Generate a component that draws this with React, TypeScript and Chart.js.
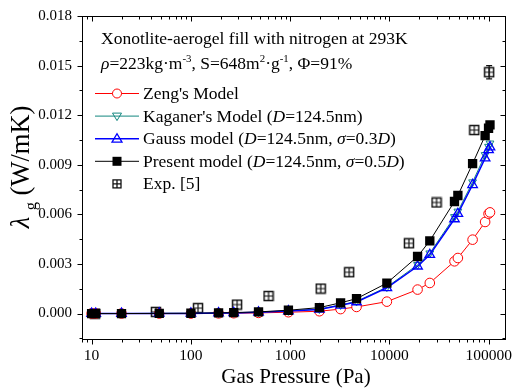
import React, { useEffect, useRef } from 'react';
import { Chart, registerables } from 'chart.js';

Chart.register(...registerables);

const FONT = "'Liberation Serif', 'Times New Roman', serif";

// Model pressures (Pa)
const pressures = [10, 11, 20, 48, 100, 190, 270, 480, 960, 1970, 3220, 4660, 9420, 19200, 25500, 45200, 48900, 68800, 92000, 99600, 103000];
const zengModel = [0, 0, 0, 0, 0, 0.00001, 0.00002, 0.00004, 0.00008, 0.00014, 0.00027, 0.0004, 0.00072, 0.00145, 0.00185, 0.00316, 0.00336, 0.00447, 0.00554, 0.00604, 0.00612];
const kaganerModel = [0, 0, 0, 0.00001, 0.00001, 0.00003, 0.00004, 0.00008, 0.00016, 0.00027, 0.00052, 0.00073, 0.0016, 0.00295, 0.00365, 0.00585, 0.00618, 0.00795, 0.0096, 0.0101, 0.0103];
const gaussModel = [0, 0, 0, 0.00001, 0.00001, 0.00003, 0.00004, 0.00008, 0.00015, 0.00025, 0.0005, 0.0007, 0.00155, 0.00286, 0.00356, 0.00572, 0.00604, 0.00779, 0.0094, 0.0099, 0.01007];
const presentModel = [0, 0, 0, 0.00001, 0.00002, 0.00004, 0.00006, 0.0001, 0.0002, 0.00036, 0.00065, 0.0009, 0.00184, 0.00345, 0.0044, 0.00678, 0.00714, 0.00907, 0.01076, 0.01121, 0.01141];

// Experimental data
const expPressures = [10.8, 44.4, 118, 292, 605, 2030, 3930, 15700, 29800, 71500, 101000];
const expValues = [0, 0.0001, 0.00033, 0.00054, 0.00106, 0.00151, 0.0025, 0.00425, 0.00672, 0.0111, 0.0146];
const expErrors = [0, 0, 0, 0, 0, 0, 0, 0, 0, 0, 0.0004];

const yTicks = [0, 0.003, 0.006, 0.009, 0.012, 0.015, 0.018];
const xTicks = [10, 100, 1000, 10000, 100000];

const RED = '#ff0000';
const TEAL = '#12877f';
const BLUE = '#0000ff';
const BLACK = '#000000';
const EXP = '#111111';

type Run = { t: string; it?: boolean; sup?: boolean; sub?: boolean };

function runsWidth(ctx: CanvasRenderingContext2D, runs: Run[], size: number) {
  let w = 0;
  for (const r of runs) {
    const s = r.sup || r.sub ? size * 0.62 : size;
    ctx.font = `${r.it ? 'italic ' : ''}${s}px ${FONT}`;
    w += ctx.measureText(r.t).width;
  }
  return w;
}

function drawRuns(ctx: CanvasRenderingContext2D, x: number, y: number, runs: Run[], size: number) {
  let cx = x;
  ctx.textAlign = 'left';
  ctx.textBaseline = 'alphabetic';
  for (const r of runs) {
    const s = r.sup || r.sub ? size * 0.62 : size;
    ctx.font = `${r.it ? 'italic ' : ''}${s}px ${FONT}`;
    const dy = r.sup ? -size * 0.38 : r.sub ? size * 0.25 : 0;
    ctx.fillText(r.t, cx, y + dy);
    cx += ctx.measureText(r.t).width;
  }
  return cx;
}

function makeExpMarker() {
  const c = document.createElement('canvas');
  c.width = 12;
  c.height = 12;
  const g = c.getContext('2d')!;
  g.strokeStyle = EXP;
  g.lineWidth = 1.5;
  g.strokeRect(1.5, 1.5, 9, 9);
  g.lineWidth = 1.2;
  g.beginPath();
  g.moveTo(6, 1.5);
  g.lineTo(6, 10.5);
  g.moveTo(1.5, 6);
  g.lineTo(10.5, 6);
  g.stroke();
  return c;
}

function drawMarker(ctx: CanvasRenderingContext2D, kind: string, x: number, y: number, color: string) {
  ctx.save();
  ctx.strokeStyle = color;
  ctx.fillStyle = color;
  ctx.lineWidth = 1;
  ctx.beginPath();
  if (kind === 'circle') {
    ctx.fillStyle = '#fff';
    ctx.arc(x, y, 4.5, 0, Math.PI * 2);
    ctx.fill();
    ctx.stroke();
  } else if (kind === 'down') {
    ctx.moveTo(x - 4.5, y - 3);
    ctx.lineTo(x + 4.5, y - 3);
    ctx.lineTo(x, y + 4.5);
    ctx.closePath();
    ctx.stroke();
  } else if (kind === 'up') {
    ctx.lineWidth = 1.3;
    ctx.moveTo(x - 5, y + 3.5);
    ctx.lineTo(x + 5, y + 3.5);
    ctx.lineTo(x, y - 5);
    ctx.closePath();
    ctx.stroke();
  } else if (kind === 'square') {
    ctx.fillRect(x - 4.5, y - 4.5, 9, 9);
  } else if (kind === 'exp') {
    ctx.strokeStyle = EXP;
    ctx.lineWidth = 1.3;
    ctx.strokeRect(x - 4, y - 4, 8, 8);
    ctx.moveTo(x, y - 4);
    ctx.lineTo(x, y + 4);
    ctx.moveTo(x - 4, y);
    ctx.lineTo(x + 4, y);
    ctx.stroke();
  }
  ctx.restore();
}

const legendItems: { color: string; marker: string; line: boolean; runs: Run[] }[] = [
  { color: RED, marker: 'circle', line: true, runs: [{ t: "Zeng's Model" }] },
  { color: TEAL, marker: 'down', line: true, runs: [{ t: "Kaganer's Model (" }, { t: 'D', it: true }, { t: '=124.5nm)' }] },
  { color: BLUE, marker: 'up', line: true, runs: [{ t: 'Gauss model (' }, { t: 'D', it: true }, { t: '=124.5nm, ' }, { t: 'σ', it: true }, { t: '=0.3' }, { t: 'D', it: true }, { t: ')' }] },
  { color: BLACK, marker: 'square', line: true, runs: [{ t: 'Present model (' }, { t: 'D', it: true }, { t: '=124.5nm, ' }, { t: 'σ', it: true }, { t: '=0.5' }, { t: 'D', it: true }, { t: ')' }] },
  { color: EXP, marker: 'exp', line: false, runs: [{ t: 'Exp. [5]' }] },
];

const decorPlugin = {
  id: 'decor',
  afterDatasetsDraw(chart: any) {
    const ctx: CanvasRenderingContext2D = chart.ctx;
    const xs = chart.scales.x;
    const ys = chart.scales.y;
    ctx.save();
    ctx.strokeStyle = EXP;
    ctx.lineWidth = 1.2;
    ctx.beginPath();
    expPressures.forEach((p, i) => {
      const e = expErrors[i];
      if (!e) return;
      const x = xs.getPixelForValue(p);
      const y1 = ys.getPixelForValue(expValues[i] + e);
      const y2 = ys.getPixelForValue(expValues[i] - e);
      ctx.moveTo(x, y1);
      ctx.lineTo(x, y2);
      ctx.moveTo(x - 3, y1);
      ctx.lineTo(x + 3, y1);
      ctx.moveTo(x - 3, y2);
      ctx.lineTo(x + 3, y2);
    });
    ctx.stroke();
    ctx.restore();
  },
  afterDraw(chart: any) {
    const ctx: CanvasRenderingContext2D = chart.ctx;
    const { left, right, top, bottom } = chart.chartArea;
    const xs = chart.scales.x;
    const ys = chart.scales.y;
    ctx.save();
    // frame
    ctx.strokeStyle = '#000';
    ctx.lineWidth = 1;
    const L = Math.round(left) + 0.5;
    const R = Math.round(right) - 0.5;
    const T = Math.round(top) + 0.5;
    const B = Math.round(bottom) - 0.5;
    ctx.strokeRect(L, T, R - L, B - T);
    // y ticks
    ctx.beginPath();
    for (let v = -0.0015; v <= 0.01801; v += 0.0015) {
      const y = Math.round(ys.getPixelForValue(v)) + 0.5;
      if (y < T - 0.1 || y > B + 0.1) continue;
      const major = Math.abs(Math.round(v / 0.003) * 0.003 - v) < 1e-7;
      const len = major ? 5 : 3;
      ctx.moveTo(L, y);
      ctx.lineTo(L - len, y);
      ctx.moveTo(R, y);
      ctx.lineTo(R - len, y);
    }
    // x ticks
    for (let d = 0; d <= 5; d++) {
      for (let k = 1; k <= 9; k++) {
        const v = k * Math.pow(10, d);
        if (v < 8 || v > 150000) continue;
        const x = Math.round(xs.getPixelForValue(v)) + 0.5;
        const len = k === 1 ? 5 : 3;
        ctx.moveTo(x, B);
        ctx.lineTo(x, B + len);
        ctx.moveTo(x, T);
        ctx.lineTo(x, T + len);
      }
    }
    ctx.stroke();

    ctx.fillStyle = '#000';
    // annotation
    drawRuns(ctx, 101, 44, [{ t: 'Xonotlite-aerogel fill with nitrogen at 293K' }], 17.5);
    drawRuns(ctx, 101, 69, [
      { t: 'ρ', it: true }, { t: '=223kg·m' }, { t: '-3', sup: true },
      { t: ', S=648m' }, { t: '2', sup: true }, { t: '·g' }, { t: '-1', sup: true },
      { t: ', Φ=91%' },
    ], 17.5);

    // legend
    legendItems.forEach((item, i) => {
      const cy = 93 + i * 22.6;
      if (item.line) {
        ctx.save();
        ctx.strokeStyle = item.color;
        ctx.lineWidth = item.color === BLUE ? 1.5 : 1;
        ctx.beginPath();
        ctx.moveTo(95, cy + 0.5);
        ctx.lineTo(139, cy + 0.5);
        ctx.stroke();
        ctx.restore();
      }
      drawMarker(ctx, item.marker, 117, cy + 0.5, item.color);
      ctx.fillStyle = '#000';
      drawRuns(ctx, 143, cy + 6, item.runs, 17.5);
    });

    // x title
    const xt: Run[] = [{ t: 'Gas Pressure (Pa)' }];
    const xw = runsWidth(ctx, xt, 21);
    drawRuns(ctx, 296 - xw / 2, 383, xt, 21);

    // y title
    const yt: Run[] = [{ t: 'λ', it: true }, { t: ' ' }, { t: 'g', sub: true }, { t: ' (W/mK)' }];
    const yw = runsWidth(ctx, yt, 26.5);
    ctx.translate(29, 167);
    ctx.rotate(-Math.PI / 2);
    drawRuns(ctx, -yw / 2, 0, yt, 26.5);
    ctx.restore();
  },
};

export default function App() {
  const ref = useRef<HTMLCanvasElement | null>(null);
  useEffect(() => {
    const canvas = ref.current;
    if (!canvas) return;
    const expMarker = makeExpMarker();
    const toPts = (xs: number[], ys: number[]) => xs.map((x, i) => ({ x, y: ys[i] }));
    const chart = new Chart(canvas, {
      type: 'line',
      data: {
        datasets: [
          {
            label: 'Exp. [5]',
            data: toPts(expPressures, expValues),
            showLine: false,
            pointStyle: expMarker as any,
            pointRadius: 5,
            borderColor: EXP,
            order: 5,
          },
          {
            label: "Zeng's Model",
            data: toPts(pressures, zengModel),
            borderColor: RED,
            borderWidth: 1,
            pointStyle: 'circle',
            pointRadius: 4.8,
            pointBorderWidth: 1,
            pointBackgroundColor: '#ffffff',
            pointBorderColor: RED,
            order: 4,
          },
          {
            label: "Kaganer's Model",
            data: toPts(pressures, kaganerModel),
            borderColor: TEAL,
            borderWidth: 1,
            pointStyle: 'triangle',
            rotation: 180,
            pointRadius: 4.5,
            pointBorderWidth: 1,
            pointBackgroundColor: 'rgba(0,0,0,0)',
            pointBorderColor: TEAL,
            order: 3,
          },
          {
            label: 'Gauss model',
            data: toPts(pressures, gaussModel),
            borderColor: BLUE,
            borderWidth: 1.5,
            pointStyle: 'triangle',
            pointRadius: 5.5,
            pointBorderWidth: 1.3,
            pointBackgroundColor: 'rgba(0,0,0,0)',
            pointBorderColor: BLUE,
            order: 2,
          },
          {
            label: 'Present model',
            data: toPts(pressures, presentModel),
            borderColor: BLACK,
            borderWidth: 1,
            pointStyle: 'rect',
            pointRadius: 6.6,
            pointBorderWidth: 0,
            pointBackgroundColor: BLACK,
            pointBorderColor: BLACK,
            order: 1,
          },
        ],
      },
      options: {
        responsive: false,
        animation: false,
        devicePixelRatio: 1,
        layout: { padding: { top: 16, right: 2, left: 0, bottom: 0 } },
        plugins: { legend: { display: false }, tooltip: { enabled: false } },
        elements: { line: { tension: 0 } },
        scales: {
          x: {
            type: 'logarithmic',
            min: 8,
            max: 150000,
            grid: { display: false, drawTicks: false },
            border: { display: false },
            afterBuildTicks: (s: any) => {
              s.ticks = xTicks.map((v) => ({ value: v }));
            },
            afterFit: (s: any) => {
              s.height = 48;
              s.paddingLeft = 0;
              s.paddingRight = 0;
            },
            ticks: {
              autoSkip: false,
              maxRotation: 0,
              padding: 7,
              color: '#000',
              font: { family: FONT, size: 15.5 },
              callback: (v: any) => String(v),
            },
          },
          y: {
            type: 'linear',
            min: -0.0016,
            max: 0.018,
            grid: { display: false, drawTicks: false },
            border: { display: false },
            afterBuildTicks: (s: any) => {
              s.ticks = yTicks.map((v) => ({ value: v }));
            },
            afterFit: (s: any) => {
              s.width = 82;
              s.paddingTop = 0;
              s.paddingBottom = 0;
            },
            ticks: {
              padding: 10,
              color: '#000',
              font: { family: FONT, size: 15 },
              callback: (v: any) => Number(v).toFixed(3),
            },
          },
        },
      },
      plugins: [decorPlugin],
    });
    return () => chart.destroy();
  }, []);

  return (
    <div style={{ position: 'fixed', left: 0, top: 0, width: 513, height: 388, background: '#fff' }}>
      <canvas ref={ref} width={513} height={388} style={{ width: 513, height: 388, display: 'block' }} />
    </div>
  );
}
